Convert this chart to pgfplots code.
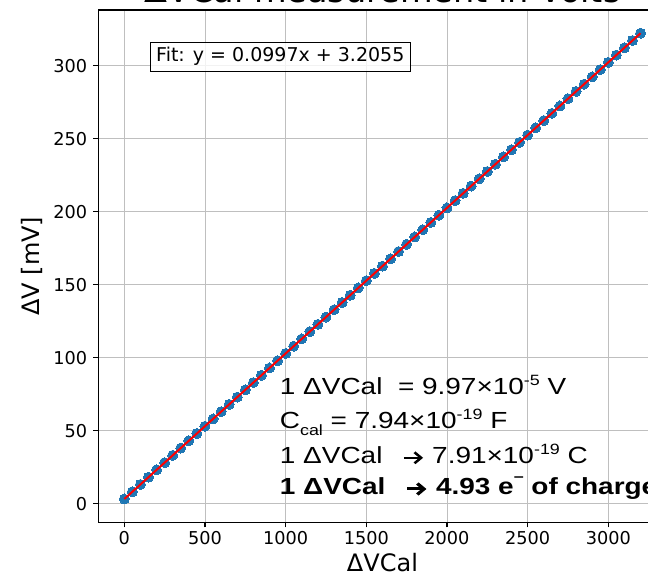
\documentclass[border=0pt]{standalone}
\usepackage{pgfplots}
\pgfplotsset{compat=1.18}
\usepackage{fontspec}
\usepackage{graphicx}
\usetikzlibrary{arrows.meta}
\setmainfont{DejaVu Sans}
\newfontfamily\arial{Liberation Sans}
\definecolor{mplblue}{HTML}{1F77B4}

% raised / lowered small text for the calibration notes
\newcommand{\sups}[2][8.6pt]{\raisebox{#1}{\fontsize{14.9}{15}\selectfont #2}}
\newcommand{\subs}[1]{\raisebox{-7.7pt}{\fontsize{14.9}{15}\selectfont #1}}
% open-headed arrow used in the notes
\newcommand{\chev}[2]{\tikz[baseline=0pt]\draw[line width=#1,
  -{Straight Barb[length=5.5pt,width=11pt,line width=#1]}] (0pt,#2) -- (16pt,#2);}

\begin{document}
\begin{tikzpicture}
\useasboundingbox (0,0) rectangle (648pt,575pt);
\clip (0,0) rectangle (648pt,575pt);
\begin{axis}[
  scale only axis, width=567.9pt, height=512.3pt,
  at={(98.5pt,52.7pt)}, anchor=south west,
  xmin=-160, xmax=3360, ymin=-12.75, ymax=338.15,
  xtick={0,500,...,3000}, ytick={0,50,...,300},
  tick pos=left, tick align=outside, major tick length=5pt,
  every tick/.style={black, line width=1.1pt},
  axis line style={black, line width=1.1pt},
  grid=major, major grid style={color=gray!50, line width=0.9pt},
  clip marker paths=true,
  /pgf/number format/assume math mode=true,
  /pgf/number format/set thousands separator={},
  scaled ticks=false,
  ticklabel style={font=\fontsize{17.7}{20}\selectfont},
  xticklabel style={anchor=base, yshift=-17.7pt},
  yticklabel style={anchor=east, inner sep=0pt, xshift=-6.2pt},
  title={ΔVCal measurement in Volts},
  every axis title/.style={at={(rel axis cs:0.5,1.01425)}, anchor=base,
    font=\fontsize{33.5}{36}\selectfont},
  xlabel={ΔVCal}, ylabel={ΔV [mV]},
  every axis x label/.style={at={(rel axis cs:0.5,-0.09701)}, anchor=base,
    font=\fontsize{24}{26}\selectfont},
  every axis y label/.style={at={(rel axis cs:-0.10301,0.5)}, rotate=90,
    anchor=base, font=\fontsize{24}{26}\selectfont},
]
\addplot[only marks, color=mplblue, mark=*, mark size=5pt,
  mark options={draw=mplblue, fill=mplblue, line width=0pt}] table {
x y
0 3.21
50 8.19
100 13.18
150 18.16
200 23.15
250 28.13
300 33.12
350 38.10
400 43.09
450 48.07
500 53.06
550 58.04
600 63.03
650 68.01
700 73.00
750 77.98
800 82.97
850 87.95
900 92.94
950 97.92
1000 102.91
1050 107.89
1100 112.88
1150 117.86
1200 122.85
1250 127.83
1300 132.82
1350 137.80
1400 142.79
1450 147.77
1500 152.76
1550 157.74
1600 162.73
1650 167.71
1700 172.70
1750 177.68
1800 182.67
1850 187.65
1900 192.64
1950 197.62
2000 202.61
2050 207.59
2100 212.58
2150 217.56
2200 222.55
2250 227.53
2300 232.52
2350 237.50
2400 242.49
2450 247.47
2500 252.46
2550 257.44
2600 262.43
2650 267.41
2700 272.40
2750 277.38
2800 282.37
2850 287.35
2900 292.34
2950 297.32
3000 302.31
3050 307.29
3100 312.28
3150 317.26
3200 322.25
};
% linear fit y = 0.0997x + 3.2055
\addplot[red, line width=2pt, no marks] coordinates {(0,3.21) (3200,322.25)};
\end{axis}

% fit annotation box
\node[draw=black, line width=1pt, fill=white, fill opacity=0.8, text opacity=1,
  draw opacity=1, anchor=north west, inner xsep=5.7pt, inner ysep=0pt,
  text height=19.3pt, text depth=10pt, font=\fontsize{19}{21}\selectfont]
  at (150pt,533.3pt) {Fit: y = 0.0997x + 3.2055};

% calibration notes
\begin{scope}[every node/.style={anchor=base west, inner sep=0pt,
    font=\arial\fontsize{23.3}{28}\selectfont}]
\node at (279.7pt,180.7pt) {\scalebox{1.2}[1]{1 ΔVCal\ \ = 9.97×10\sups{-5} V}};
\node at (279.7pt,146.7pt) {\scalebox{1.2}[1]{C\subs{cal} = 7.94×10\sups{-19} F}};
\node at (279.7pt,111.7pt) {\scalebox{1.2}[1]{1 ΔVCal\ \ \hspace{3.7pt}\chev{2.3pt}{5.5pt}\ 7.91×10\sups{-19} C}};
\node at (279.7pt,80pt) {\scalebox{1.2}[1]{\bfseries 1 ΔVCal\ \ \hspace{3.7pt}\chev{3pt}{6pt}\ 4.93 e\sups[13pt]{\bfseries –} of charge}};
\end{scope}
\end{tikzpicture}
\end{document}
